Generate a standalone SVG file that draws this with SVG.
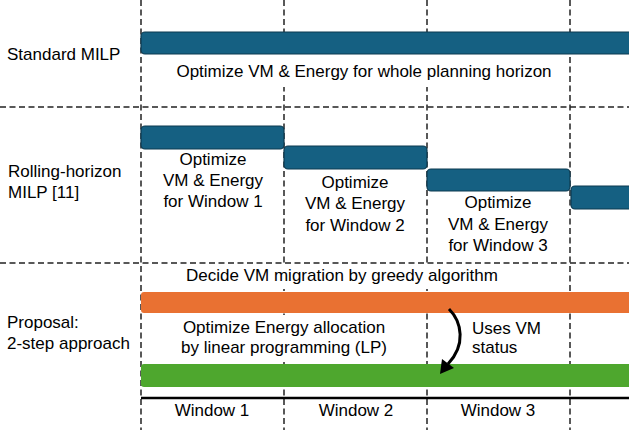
<svg xmlns="http://www.w3.org/2000/svg" width="629" height="430" viewBox="0 0 629 430">
<defs>
<style>
text{font-family:"Liberation Sans",Arial,sans-serif;font-size:17px;fill:#000}
.c{text-anchor:middle}
.dash{stroke:#222;stroke-width:1.5;stroke-dasharray:6 3.5;fill:none}
.blue{fill:#156082;stroke:#0c3a50;stroke-width:1.2}
.wb{fill:#fff}
</style>
</defs>
<rect width="629" height="430" fill="#fff"/>
<g id="grid">
<line class="dash" x1="141" y1="0" x2="141" y2="430"/>
<line class="dash" x1="284" y1="0" x2="284" y2="430"/>
<line class="dash" x1="427" y1="0" x2="427" y2="430"/>
<line class="dash" x1="570" y1="0" x2="570" y2="430"/>
<line class="dash" x1="0" y1="107" x2="629" y2="107"/>
<line class="dash" x1="0" y1="263" x2="629" y2="263"/>
<line x1="141" y1="398" x2="629" y2="398" stroke="#000" stroke-width="2.5"/>
</g>
<g id="row-standard">
<text x="7" y="60">Standard MILP</text>
<rect class="blue" x="141" y="32" width="500" height="22" rx="4"/>
<rect class="wb" x="162" y="56" width="396" height="31"/>
<text class="c" x="364" y="77">Optimize VM &amp; Energy for whole planning horizon</text>
</g>
<g id="row-rolling">
<text x="8" y="177">Rolling-horizon</text>
<text x="8" y="198">MILP [11]</text>
<rect class="blue" x="141" y="126" width="143" height="23" rx="4"/>
<rect class="blue" x="284" y="146" width="143" height="23" rx="4"/>
<rect class="blue" x="427" y="169" width="143" height="22" rx="4"/>
<rect class="blue" x="571" y="186" width="70" height="23" rx="4"/>
<text class="c" x="213" y="165">Optimize</text>
<text class="c" x="213" y="186">VM &amp; Energy</text>
<text class="c" x="213" y="207">for Window 1</text>
<text class="c" x="355" y="188">Optimize</text>
<text class="c" x="355" y="209">VM &amp; Energy</text>
<text class="c" x="355" y="231">for Window 2</text>
<text class="c" x="498" y="208">Optimize</text>
<text class="c" x="498" y="230">VM &amp; Energy</text>
<text class="c" x="498" y="251">for Window 3</text>
</g>
<g id="row-proposal">
<text x="7" y="328">Proposal:</text>
<text x="7" y="349">2-step approach</text>
<rect class="wb" x="176" y="266" width="334" height="23"/>
<text class="c" x="342" y="281">Decide VM migration by greedy algorithm</text>
<rect x="141" y="292" width="500" height="21" rx="3" fill="#e97132"/>
<rect class="wb" x="174" y="315" width="220" height="47"/>
<text class="c" x="284" y="333">Optimize Energy allocation</text>
<text class="c" x="284" y="353">by linear programming (LP)</text>
<text x="472" y="334">Uses VM</text>
<text x="472" y="353">status</text>
<rect x="141" y="364" width="500" height="23" rx="3" fill="#4ea72e"/>
</g>
<g id="connectors">
<path d="M449,309 C462,322 466,345 448,364" fill="none" stroke="#000" stroke-width="3"/>
<polygon points="440,374 442,359 454,368" fill="#000"/>
</g>
<g id="axis-labels">
<text class="c" x="212" y="416">Window 1</text>
<text class="c" x="356" y="416">Window 2</text>
<text class="c" x="498" y="416">Window 3</text>
</g>
</svg>
